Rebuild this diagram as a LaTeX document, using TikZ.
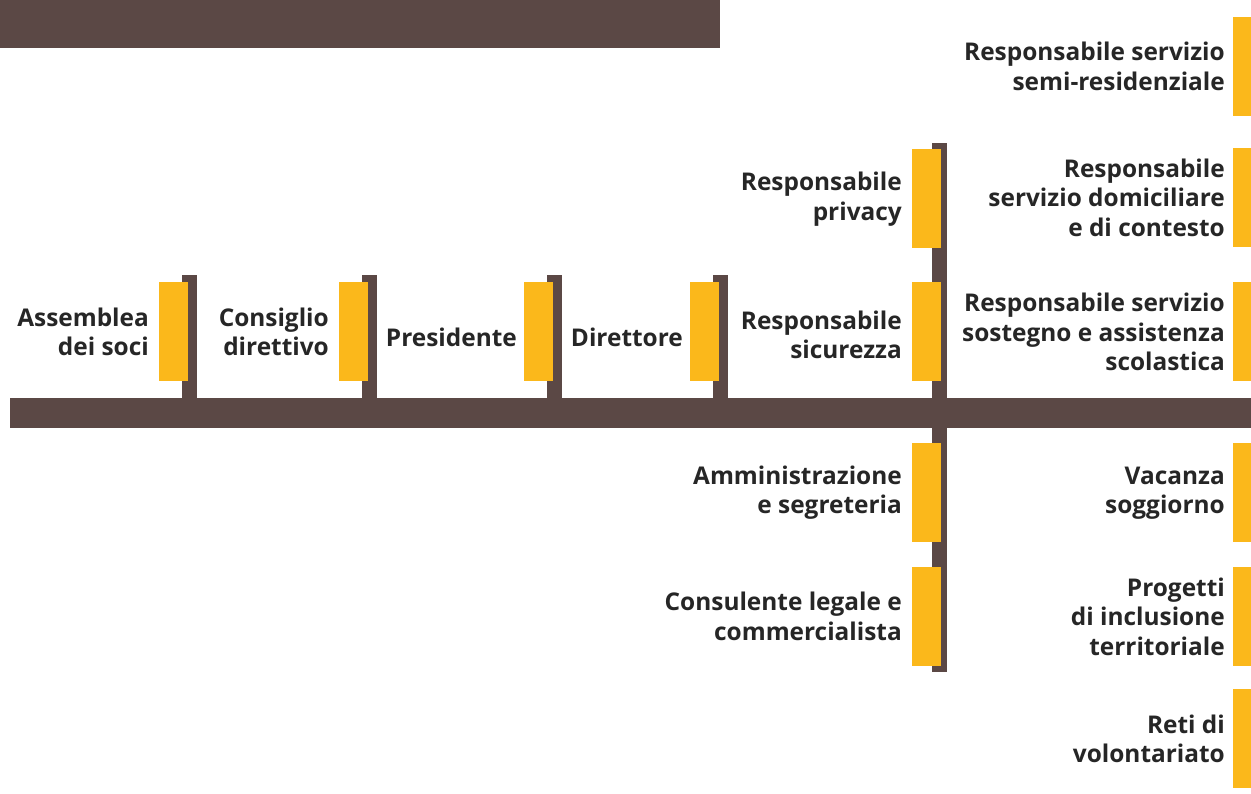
\documentclass[tikz,border=0pt]{standalone}
\usepackage{fontspec}
\setmainfont{Open Sans}
\usetikzlibrary{backgrounds}
\definecolor{brownc}{HTML}{5B4845}
\definecolor{yell}{HTML}{FBB81B}
\definecolor{txt}{HTML}{262626}
\tikzset{
  ybox/.style={fill=yell, draw=none, inner sep=0pt, outer sep=0pt, minimum width=29pt, minimum height=99pt},
  rbox/.style={ybox, minimum width=18pt},
  stem/.style={draw=brownc, line width=15pt, line cap=butt},
  lbl/.style={anchor=east, align=right, inner sep=0pt, text=txt, font=\bfseries\fontsize{24.4}{29.5}\selectfont},
  band/.style={fill=brownc, draw=none, inner sep=0pt, outer sep=0pt, anchor=south west}
}
\begin{document}
\begin{tikzpicture}[x=1pt,y=1pt]
\useasboundingbox (0,0) rectangle (1251,794);
% bars
\node[band, minimum width=720pt, minimum height=48pt] (top) at (0,746) {};
\node[band, minimum width=1241pt, minimum height=30pt] (bar) at (10,366) {};
% left chain boxes
\node[ybox] (a) at (173.5,462) {};
\node[ybox] (b) at (353.5,462) {};
\node[ybox] (c) at (538.5,462) {};
\node[ybox] (d) at (704.5,462) {};
% central column
\node[ybox] (p) at (926.5,595) {};
\node[ybox] (s) at (926.5,462) {};
\node[ybox] (m) at (926.5,301.5) {};
\node[ybox] (l) at (926.5,177.5) {};
% right column
\node[rbox] (r1) at (1242,727.5) {};
\node[rbox] (r2) at (1242,596.5) {};
\node[rbox] (r3) at (1242,462) {};
\node[rbox] (r4) at (1242,301) {};
\node[rbox] (r5) at (1242,177.5) {};
\node[rbox] (r6) at (1242,55) {};
% stems
\begin{scope}[on background layer]
\foreach \n in {a,b,c,d}{
  \draw[stem] ([shift={(1,7)}]\n.north east) -- ([xshift=1]\n.north east |- bar.north);
}
\draw[stem] ([shift={(-1.5,6)}]p.north east) -- ([shift={(-1.5,-6)}]l.south east);
\end{scope}
% labels
\node[lbl] (ta) at ([xshift=-10]a.west) {Assemblea\\dei soci};
\node[lbl] (tb) at ([xshift=-10]b.west) {Consiglio\\direttivo};
\node[lbl] (tc) at ([shift={(-7,-5)}]c.west) {Presidente};
\node[lbl] (td) at ([shift={(-7,-5)}]d.west) {Direttore};
\node[lbl] (tp) at ([xshift=-10]p.west) {Responsabile\\privacy};
\node[lbl] (ts) at ([shift={(-10,-3)}]s.west) {Responsabile\\sicurezza};
\node[lbl] (tm) at ([xshift=-10]m.west) {Amministrazione\\e segreteria};
\node[lbl] (tl) at ([xshift=-10]l.west) {Consulente legale e\\commercialista};
\node[lbl] (t1) at ([xshift=-8]r1.west) {Responsabile servizio\\semi-residenziale};
\node[lbl] (t2) at ([xshift=-8]r2.west) {Responsabile\\servizio domiciliare\\e di contesto};
\node[lbl] (t3) at ([xshift=-8]r3.west) {Responsabile servizio\\sostegno e assistenza\\scolastica};
\node[lbl] (t4) at ([xshift=-8]r4.west) {Vacanza\\soggiorno};
\node[lbl] (t5) at ([xshift=-8]r5.west) {Progetti\\di inclusione\\territoriale};
\node[lbl] (t6) at ([xshift=-8]r6.west) {Reti di\\volontariato};
\end{tikzpicture}
\end{document}
